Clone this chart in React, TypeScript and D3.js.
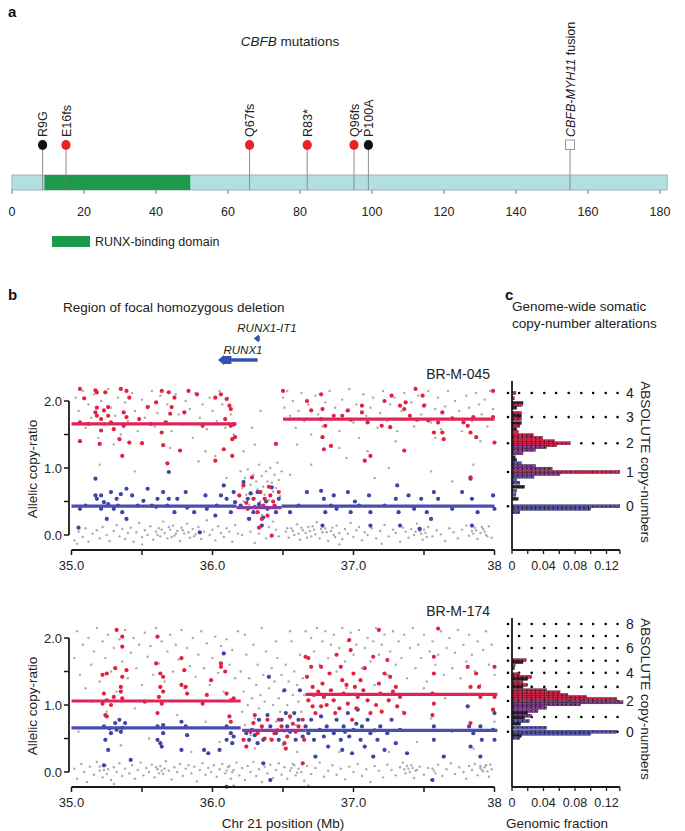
import React from 'react';
import * as d3 from 'd3';

const FONT = '"Liberation Sans", Arial, Helvetica, sans-serif';

// ---------- panel a: CBFB protein ----------
const proteinLength = 182;
const domainStart = 9;
const domainEnd = 49.5;
const aaTicks = [0, 20, 40, 60, 80, 100, 120, 140, 160, 180];
const mutationLabels = ['R9G', 'E16fs', 'Q67fs', 'R83*', 'Q96fs', 'P100A'];
const mutationPos = [8.5, 15, 66, 82, 95, 99];
const mutationKind = ['missense', 'truncating', 'truncating', 'truncating', 'truncating', 'missense'];
const fusionPos = 155;

// ---------- panel b: allelic copy-ratio, chr21 ----------
const genomicTicks = [35, 35.5, 36, 36.5, 37, 37.5, 38];
const genomicLabels = ['35.0', '', '36.0', '', '37.0', '', '38'];
const ratioTicks = [0, 0.5, 1, 1.5, 2];
const geneNames = ['RUNX1-IT1', 'RUNX1'];
const geneStart = [36.3, 36.06];
const geneEnd = [36.335, 36.32];

// [Mb, ratio]
const topRed = [
  [35.06, 2.18], [35.09, 2.04], [35.06, 1.68], [35.06, 1.4], [35.17, 2.16], [35.18, 2.13], [35.18, 1.9], [35.17, 1.83],
  [35.18, 1.78], [35.21, 1.73], [35.23, 1.86], [35.26, 1.91], [35.26, 1.78], [35.28, 1.68], [35.3, 1.58], [35.21, 1.56],
  [35.2, 1.36], [35.24, 2.13], [35.35, 2.18], [35.39, 2.15], [35.41, 2.05], [35.37, 1.83], [35.39, 1.76], [35.37, 1.63],
  [35.34, 1.43], [35.41, 1.38], [35.36, 1.18], [35.48, 1.73], [35.5, 1.37], [35.54, 1.91], [35.6, 1.98], [35.64, 2.15],
  [35.69, 2.13], [35.73, 2.05], [35.71, 1.91], [35.7, 1.81], [35.67, 1.68], [35.64, 1.53], [35.65, 1.34], [35.68, 1.07],
  [35.77, 1.26], [35.83, 2.15], [35.8, 1.83], [35.93, 1.63], [36.02, 2.05], [36.06, 2.1], [36.1, 2.03], [36.13, 1.88],
  [36.09, 1.73], [36.13, 1.63], [36.15, 1.65], [36.14, 1.43], [36.16, 1.46], [36.08, 1.28], [36.02, 1.11], [36.14, 1.18],
  [36.12, 1.93], [35.89, 2.1], [35.56, 1.66], [35.12, 1.66],
  [36.19, 0.59], [36.22, 0.74], [36.25, 0.39], [36.29, 0.54], [36.32, 0.34], [36.34, 0.64], [36.36, 0.44], [36.39, 0.29],
  [36.41, 0.59], [36.44, 0.44], [36.45, 1.36], [36.47, 0.64], [36.4, 0.72], [36.33, 0.11], [36.42, -0.01], [36.28, 0.86],
  [36.35, 0.24], [36.37, 0.54], [36.3, 0.42], [36.43, 0.5], [36.24, 0.48],
  [36.5, 2.15], [36.67, 2.0], [36.7, 1.86], [36.77, 2.1], [36.78, 1.88], [36.77, 1.73], [36.8, 1.63], [36.78, 1.46],
  [36.79, 1.28], [36.84, 1.33], [36.86, 1.78], [36.92, 1.78], [36.96, 1.86], [37.06, 1.93], [37.06, 1.83], [37.1, 1.68],
  [37.12, 1.18], [37.08, 1.11], [37.2, 1.63], [37.27, 2.08], [37.33, 1.93], [37.36, 1.88], [37.37, 1.98], [37.4, 1.78],
  [37.36, 1.26], [37.44, 2.18], [37.49, 2.08], [37.5, 1.93], [37.53, 1.71], [37.57, 1.53], [37.6, 1.68], [37.63, 1.83],
  [37.63, 1.53], [37.64, 1.43], [37.78, 1.68], [37.81, 1.63], [37.83, 1.53], [37.83, 0.86], [37.85, 1.76], [37.87, 1.46],
  [37.99, 2.15], [37.99, 1.76], [38.0, 1.38], [37.26, 1.61], [37.22, 2.0], [36.98, 1.72], [37.45, 1.72], [37.7, 1.74],
];
const topBlue = [
  [35.05, 0.11], [35.06, 0.39], [35.1, 0.44], [35.17, 0.84], [35.17, 0.59], [35.18, 0.54], [35.21, 0.59], [35.21, 0.39],
  [35.23, 0.49], [35.25, 0.24], [35.28, 0.64], [35.3, 0.39], [35.32, 0.54], [35.35, 0.61], [35.36, 0.34], [35.39, 0.69],
  [35.39, 0.24], [35.43, 0.59], [35.47, 0.44], [35.51, 0.51], [35.54, 0.69], [35.57, 0.44], [35.61, 0.54], [35.65, 0.64],
  [35.68, 0.44], [35.69, 0.54], [35.69, 0.94], [35.73, 0.34], [35.75, 0.54], [35.82, 0.41], [35.87, 0.34], [35.91, 0.04],
  [35.96, 0.39], [36.03, 0.44], [36.06, 0.59], [36.08, 0.74], [36.1, 0.54], [36.13, 0.34], [36.15, 0.64], [36.16, 0.49],
  [36.02, 0.29], [35.95, 0.59], [35.81, 0.64], [35.26, 0.46], [35.33, 0.44], [35.6, 0.42],
  [36.2, 0.44], [36.22, 0.79], [36.25, 0.54], [36.26, 0.24], [36.29, 0.34], [36.32, 0.64], [36.33, 0.46], [36.36, 0.26],
  [36.39, 0.39], [36.42, 0.71], [36.45, 0.34], [36.47, 0.54], [36.35, 0.14], [36.27, 0.62], [36.38, 0.5],
  [36.55, 0.34], [36.67, 0.64], [36.77, 0.66], [36.79, 0.54], [36.8, 0.34], [36.78, 0.14], [36.84, 0.44], [36.86, 0.59],
  [36.88, 0.39], [36.96, 0.64], [36.98, 0.34], [37.04, 0.44], [37.11, 0.59], [37.12, 0.34], [37.12, 0.14], [37.22, 0.44],
  [37.3, 0.54], [37.31, 0.74], [37.32, 0.34], [37.33, 0.14], [37.39, 0.59], [37.43, 0.39], [37.48, 0.54], [37.52, 0.34],
  [37.57, 0.64], [37.55, 0.24], [37.6, 0.54], [37.7, 0.39], [37.77, 0.64], [37.83, 0.84], [37.84, 0.54], [37.84, 0.14],
  [37.88, 0.34], [37.99, 0.59], [38.0, 0.39], [37.47, 0.09], [36.61, 0.44], [37.01, 0.5],
];
const topGray = [
  [35.02, -0.08], [35.05, 0.05], [35.08, -0.03], [35.1, 0.1], [35.12, -0.1], [35.15, 0.02], [35.18, 0.07], [35.2, -0.05],
  [35.22, 0.12], [35.25, 0.0], [35.27, -0.09], [35.3, 0.06], [35.32, 0.15], [35.34, -0.02], [35.36, 0.09], [35.38, -0.06],
  [35.4, 0.03], [35.42, 0.11], [35.44, -0.1], [35.46, 0.04], [35.48, 0.18], [35.5, -0.03], [35.52, 0.07], [35.54, 0.0],
  [35.56, 0.13], [35.58, -0.07], [35.6, 0.05], [35.62, 0.1], [35.63, -0.02], [35.65, 0.2], [35.66, 0.03], [35.68, -0.05],
  [35.7, 0.08], [35.72, 0.14], [35.73, -0.01], [35.75, 0.06], [35.77, -0.09], [35.78, 0.11], [35.8, 0.02], [35.82, 0.17],
  [35.84, -0.04], [35.86, 0.09], [35.88, 0.01], [35.9, 0.12], [35.92, -0.06], [35.94, 0.05], [35.96, 0.22], [35.98, 0.0],
  [36.0, 0.08], [36.02, -0.08], [36.04, 0.13], [36.06, 0.03], [36.08, -0.03], [36.1, 0.1], [36.12, 0.05], [36.14, -0.1],
  [36.16, 0.15], [36.18, 0.02],
  [36.52, 0.05], [36.54, -0.04], [36.56, 0.1], [36.58, 0.0], [36.6, 0.16], [36.62, -0.07], [36.64, 0.07], [36.66, 0.03],
  [36.68, 0.12], [36.7, -0.02], [36.72, 0.08], [36.74, 0.19], [36.76, -0.05], [36.78, 0.04], [36.8, 0.1], [36.82, -0.09],
  [36.84, 0.06], [36.86, 0.0], [36.88, 0.14], [36.9, 0.03], [36.92, -0.06], [36.94, 0.09], [36.96, 0.02], [36.98, 0.18],
  [37.0, -0.03], [37.02, 0.07], [37.04, 0.12], [37.06, -0.08], [37.08, 0.04], [37.1, 0.0], [37.13, 0.1], [37.16, -0.05],
  [37.19, 0.06], [37.22, 0.15], [37.25, -0.02], [37.28, 0.08], [37.3, 0.03], [37.33, -0.1], [37.35, 0.11], [37.37, 0.05],
  [37.39, -0.04], [37.41, 0.09], [37.43, 0.0], [37.45, 0.17], [37.47, 0.06], [37.49, -0.07], [37.51, 0.03], [37.53, 0.12],
  [37.56, -0.02], [37.59, 0.07], [37.62, 0.01], [37.65, -0.09], [37.68, 0.1], [37.71, 0.04], [37.74, -0.05], [37.77, 0.08],
  [37.8, 0.14], [37.82, -0.01], [37.84, 0.06], [37.86, 0.11], [37.88, -0.06], [37.9, 0.03], [37.92, 0.09], [37.94, 0.0],
  [37.96, 0.13], [37.98, -0.04],
  [35.61, 0.0], [35.64, 0.08], [35.69, 0.12], [35.71, -0.03], [35.74, 0.02], [35.79, 0.07], [35.83, 0.04], [35.87, -0.02],
  [36.53, 0.1], [36.57, 0.06], [36.61, 0.02], [36.63, 0.11], [36.67, -0.04], [36.69, 0.06], [36.71, 0.13], [36.73, 0.01],
  [36.77, 0.09], [36.81, 0.04], [36.85, 0.11], [36.87, -0.03], [37.44, 0.05], [37.46, 0.1], [37.48, 0.02], [37.5, 0.08],
  [37.52, -0.03], [37.85, 0.02], [37.87, 0.07], [37.91, 0.12], [37.93, 0.05], [37.95, -0.02],
  [35.04, -0.13], [35.5, -0.14], [36.3, -0.12], [37.2, -0.13], [36.9, -0.14],
  [36.2, 0.95], [36.21, 0.7], [36.22, 0.5], [36.23, 0.85], [36.24, 0.6], [36.25, 0.98], [36.26, 0.45], [36.27, 0.75],
  [36.28, 0.62], [36.29, 0.9], [36.3, 0.55], [36.31, 0.8], [36.32, 0.68], [36.33, 1.05], [36.34, 0.5], [36.35, 0.88],
  [36.36, 0.72], [36.37, 0.6], [36.38, 0.95], [36.39, 0.8], [36.4, 0.52], [36.41, 1.0], [36.42, 0.78], [36.43, 0.65],
  [36.44, 0.9], [36.45, 0.7], [36.46, 1.08], [36.47, 0.82], [36.48, 0.58], [36.49, 0.95], [36.3, 1.35], [36.22, 1.25],
  [36.34, 1.85], [36.28, 1.6], [36.25, 0.25], [36.35, 0.3], [36.43, 0.2], [36.27, 0.05], [36.38, -0.05], [36.45, 0.08],
  [36.21, 0.0], [36.33, 0.02], [36.47, -0.02], [36.4, 0.12],
  [35.45, 0.95], [35.9, 1.1], [36.1, 0.85], [36.55, 0.9], [36.7, 1.05], [36.95, 1.15], [37.15, 0.85], [37.25, 1.0],
  [37.55, 0.95], [37.85, 1.05], [37.7, 0.8], [35.2, 1.05], [36.02, 1.18],
  [35.03, 2.05], [35.05, 1.85], [35.08, 2.15], [35.1, 1.6], [35.12, 1.95], [35.14, 1.75], [35.16, 2.1], [35.19, 1.45],
  [35.21, 2.0], [35.23, 1.65], [35.26, 2.18], [35.28, 1.9], [35.31, 1.78], [35.33, 2.05], [35.35, 1.5], [35.38, 1.98],
  [35.4, 1.7], [35.43, 2.12], [35.45, 1.85], [35.47, 1.55], [35.5, 2.02], [35.52, 1.75], [35.55, 1.92], [35.57, 2.15],
  [35.59, 1.62], [35.61, 1.82], [35.63, 2.08], [35.66, 1.7], [35.68, 1.95], [35.71, 1.55], [35.74, 2.1], [35.76, 1.8],
  [35.79, 1.65], [35.81, 2.0], [35.84, 1.88], [35.86, 1.45], [35.88, 2.12], [35.91, 1.75], [35.93, 1.95], [35.96, 1.58],
  [35.98, 2.05], [36.0, 1.85], [36.03, 1.7], [36.05, 2.15], [36.07, 1.95], [36.09, 1.6], [36.11, 2.05], [36.13, 1.8],
  [36.15, 1.5], [35.3, 1.35], [35.7, 1.3], [35.95, 1.25],
  [36.5, 2.05], [36.51, 1.9], [36.53, 2.15], [36.55, 1.78], [36.57, 2.0], [36.59, 1.6], [36.61, 1.85], [36.63, 2.12],
  [36.65, 1.7], [36.68, 1.95], [36.7, 1.5], [36.73, 2.08], [36.75, 1.8], [36.78, 1.62], [36.8, 1.98], [36.83, 2.15],
  [36.85, 1.72], [36.87, 1.9], [36.9, 1.55], [36.92, 2.02], [36.95, 1.85], [36.97, 2.18], [37.0, 1.68], [37.02, 1.95],
  [37.04, 1.45], [37.07, 2.1], [37.09, 1.78], [37.12, 1.9], [37.14, 2.05], [37.17, 1.6], [37.19, 1.82], [37.21, 2.15],
  [37.24, 1.7], [37.26, 1.95], [37.29, 2.05], [37.31, 1.55], [37.34, 1.85], [37.36, 2.12], [37.38, 1.72], [37.41, 1.98],
  [37.43, 1.62], [37.46, 2.08], [37.48, 1.8], [37.51, 1.95], [37.53, 2.15], [37.55, 1.68], [37.58, 1.88], [37.6, 2.05],
  [37.62, 1.58], [37.65, 1.92], [37.67, 2.15], [37.7, 1.75], [37.72, 2.0], [37.75, 1.85], [37.77, 1.55], [37.8, 2.08],
  [37.82, 1.9], [37.84, 1.7], [37.87, 2.12], [37.89, 1.95], [37.91, 1.8], [37.93, 2.02], [37.95, 1.62], [37.97, 2.15],
  [37.99, 1.88], [36.6, 1.35], [36.9, 1.3], [37.3, 1.4], [37.1, 1.25], [37.58, 1.45], [37.9, 1.4],
];

const botRed = [
  [35.32, 2.12], [35.36, 2.02], [35.36, 1.87], [35.22, 1.45], [35.25, 1.47], [35.31, 1.55], [35.36, 1.42], [35.35, 1.27],
  [35.35, 1.2], [35.39, 1.52], [35.23, 1.17], [35.25, 1.07], [35.28, 1.0], [35.24, 0.85], [35.25, 0.83], [35.3, 1.12],
  [35.36, 1.1], [35.61, 2.02], [35.6, 1.62], [35.63, 1.47], [35.65, 1.42], [35.63, 1.27], [35.65, 1.2], [35.62, 1.12],
  [35.64, 1.02], [35.61, 0.88], [35.78, 1.7], [35.8, 1.52], [35.81, 1.27], [35.78, 1.3], [35.82, 1.17], [35.93, 1.02],
  [35.96, 1.15], [36.06, 1.62], [36.06, 1.57], [36.09, 1.5], [36.1, 1.17], [36.13, 1.07], [36.12, 0.83], [36.13, 0.75],
  [35.99, 1.37], [35.22, 1.02], [35.52, 1.05], [36.15, 1.1],
  [36.22, 0.48], [36.24, 0.38], [36.29, 0.73], [36.32, 0.58], [36.35, 0.68], [36.39, 0.78], [36.42, 0.48], [36.44, 0.58],
  [36.47, 0.78], [36.49, 0.68], [36.51, 0.43], [36.52, 0.35], [36.53, 0.53], [36.55, 0.83], [36.59, 0.6], [36.61, 0.68],
  [36.64, 0.78], [36.65, 0.48], [36.64, 0.13], [36.27, 0.6], [36.37, 0.5], [36.46, 0.62], [36.57, 0.72], [36.3, 0.85],
  [36.66, 1.72], [36.68, 1.7], [36.7, 1.57], [36.67, 1.42], [36.71, 1.27], [36.72, 1.15], [36.68, 1.07], [36.71, 0.98],
  [36.73, 0.88], [36.77, 1.57], [36.78, 1.32], [36.79, 1.12], [36.77, 0.98], [36.83, 1.47], [36.84, 1.22], [36.86, 1.07],
  [36.87, 0.88], [36.88, 1.75], [36.91, 1.57], [36.92, 1.37], [36.93, 1.17], [36.96, 1.02], [36.97, 1.97], [36.98, 1.82],
  [37.0, 1.47], [37.01, 1.27], [37.03, 1.12], [36.99, 0.78], [37.05, 1.37], [37.07, 1.22], [37.1, 1.07], [37.12, 0.88],
  [37.14, 1.72], [37.18, 1.32], [37.19, 1.17], [37.18, 2.12], [37.22, 1.47], [37.24, 1.67], [37.25, 1.07], [37.26, 1.42],
  [37.3, 1.27], [37.31, 0.98], [37.33, 1.12], [37.36, 0.88], [37.57, 1.72], [37.57, 1.47], [37.56, 1.17], [37.57, 1.02],
  [37.56, 0.85], [37.6, 2.14], [37.81, 1.57], [37.83, 1.27], [37.87, 1.47], [37.9, 1.12], [37.89, 1.27], [37.83, 0.73],
  [37.99, 0.93], [38.0, 1.12], [38.0, 1.57], [36.75, 1.2], [36.81, 1.0], [36.9, 0.95], [36.95, 1.3], [37.02, 0.95],
  [37.08, 1.55], [37.16, 1.0], [37.2, 0.9], [37.28, 1.2],
];
const botBlue = [
  [35.23, 0.68], [35.24, 0.48], [35.28, 0.58], [35.26, 0.33], [35.31, 0.73], [35.32, 0.63], [35.34, 0.78], [35.35, 0.6],
  [35.38, 0.73], [35.23, 0.1], [35.42, 0.18], [35.61, 0.68], [35.61, 0.48], [35.63, 0.43], [35.65, 0.7], [35.65, 0.58],
  [35.64, 0.38], [35.78, 0.75], [35.81, 0.68], [35.82, 0.55], [35.78, 0.33], [35.94, 0.33], [35.97, 0.28], [36.08, 1.77],
  [36.05, 0.33], [36.1, 0.68], [36.13, 0.58], [36.1, 0.48], [36.14, 0.43], [36.15, 0.53], [36.1, -0.22], [35.27, 0.65],
  [35.36, 0.66],
  [36.24, 0.58], [36.26, 0.48], [36.28, 0.63], [36.32, 0.43], [36.33, 0.78], [36.36, 0.48], [36.36, 0.13], [36.39, 0.85],
  [36.41, 0.68], [36.41, -0.12], [36.45, 0.58], [36.47, 0.48], [36.49, 0.78], [36.51, 1.22], [36.52, 0.88], [36.53, 0.68],
  [36.55, 0.6], [36.58, 0.88], [36.59, 0.48], [36.61, 0.78], [36.62, 1.22], [36.64, 0.53], [36.4, 1.42], [36.3, 0.55],
  [36.66, 0.68], [36.68, 0.58], [36.7, 0.78], [36.72, 0.48], [36.73, 0.23], [36.76, 0.63], [36.77, 0.83], [36.79, 0.53],
  [36.81, 0.68], [36.82, 0.38], [36.86, 0.58], [36.88, 0.78], [36.91, 0.48], [36.92, 0.33], [36.93, 0.68], [36.96, 0.88],
  [36.97, 0.53], [36.99, 0.28], [37.0, 0.63], [37.03, 0.93], [37.05, 0.48], [37.06, 0.68], [37.08, 0.38], [37.1, 0.78],
  [37.12, 0.58], [37.14, 0.23], [37.17, 0.48], [37.19, 0.68], [37.22, 0.33], [37.24, 0.58], [37.27, 0.78], [37.3, 0.43],
  [37.33, 0.63], [37.38, 0.28], [37.57, 0.68], [37.57, 0.48], [37.56, -0.12], [37.64, 0.23], [37.81, 0.98], [37.82, 0.68],
  [37.83, 0.38], [37.85, 0.58], [37.9, 0.68], [37.91, 0.48], [37.9, 0.23], [37.99, 0.63], [38.0, 0.48], [38.0, 0.88],
  [36.94, 0.6], [37.02, 0.72], [37.15, 0.62],
];
const botGray = [
  [35.02, 1.7], [35.04, 2.1], [35.06, 1.45], [35.08, 1.9], [35.1, 1.25], [35.12, 2.0], [35.14, 1.6], [35.16, 1.8],
  [35.18, 2.15], [35.2, 1.35], [35.22, 1.95], [35.24, 1.7], [35.26, 2.05], [35.28, 1.5], [35.3, 1.85], [35.32, 1.2],
  [35.34, 1.98], [35.36, 1.65], [35.38, 2.12], [35.4, 1.4], [35.42, 1.78], [35.44, 2.0], [35.46, 1.55], [35.48, 1.9],
  [35.5, 1.3], [35.52, 2.08], [35.54, 1.72], [35.56, 1.88], [35.58, 1.45], [35.6, 2.15], [35.62, 1.62], [35.64, 1.95],
  [35.66, 1.35], [35.68, 1.8], [35.7, 2.05], [35.72, 1.5], [35.74, 1.9], [35.76, 1.68], [35.78, 2.12], [35.8, 1.25],
  [35.82, 1.85], [35.84, 1.58], [35.86, 2.0], [35.88, 1.42], [35.9, 1.75], [35.92, 2.1], [35.94, 1.55], [35.96, 1.92],
  [35.98, 1.3], [36.0, 1.7], [36.02, 2.02], [36.04, 1.48], [36.06, 1.88], [36.08, 1.2], [36.1, 1.98], [36.12, 1.6],
  [36.14, 1.82], [36.16, 1.4], [36.18, 2.1], [35.15, 1.05], [35.45, 0.95], [35.55, 0.5], [35.75, 0.85], [35.85, 0.3],
  [35.95, 0.75], [36.05, 0.45], [35.35, 0.4], [35.25, 0.9], [35.05, 0.6],
  [36.2, 1.5], [36.21, 0.9], [36.22, 1.2], [36.23, 0.7], [36.24, 1.75], [36.25, 1.0], [36.26, 1.4], [36.27, 0.55],
  [36.28, 1.1], [36.29, 1.9], [36.3, 0.8], [36.31, 1.3], [36.32, 1.6], [36.33, 0.95], [36.34, 1.15], [36.35, 0.65],
  [36.36, 1.45], [36.37, 1.05], [36.38, 1.8], [36.39, 0.85], [36.4, 1.25], [36.41, 0.5], [36.42, 1.55], [36.43, 1.0],
  [36.44, 1.35], [36.45, 0.75], [36.46, 1.7], [36.47, 1.1], [36.48, 0.9], [36.49, 1.45], [36.5, 1.2], [36.51, 0.6],
  [36.52, 1.6], [36.53, 1.0], [36.54, 1.35], [36.55, 0.8], [36.56, 1.95], [36.57, 1.15], [36.58, 1.5], [36.59, 0.7],
  [36.6, 1.3], [36.61, 1.05], [36.62, 1.75], [36.63, 0.9], [36.64, 1.4], [36.65, 1.15], [36.66, 2.1], [36.23, 2.05],
  [36.35, 2.15], [36.45, 1.95], [36.55, 2.1], [36.3, 0.35], [36.5, 0.4], [36.6, 0.3],
  [36.7, 2.0], [36.72, 1.8], [36.74, 2.15], [36.76, 1.6], [36.78, 1.95], [36.8, 2.1], [36.82, 1.7], [36.84, 1.9],
  [36.86, 2.05], [36.88, 1.5], [36.9, 1.85], [36.92, 2.15], [36.94, 1.65], [36.96, 1.95], [36.98, 2.08], [37.0, 1.75],
  [37.02, 1.9], [37.04, 2.12], [37.06, 1.55], [37.08, 1.85], [37.1, 2.0], [37.12, 1.65], [37.14, 1.95], [37.16, 2.15],
  [37.18, 1.75], [37.2, 1.9], [37.22, 2.05], [37.24, 1.45], [37.26, 1.8], [37.28, 2.1], [37.3, 1.6], [37.32, 1.95],
  [37.34, 1.7], [37.36, 2.05], [37.38, 1.4], [37.4, 1.85], [37.42, 2.15], [37.44, 1.55], [37.46, 1.9], [37.48, 1.7],
  [37.5, 2.05], [37.52, 1.35], [37.54, 1.8], [37.56, 1.95], [37.58, 1.6], [37.6, 1.75], [37.62, 2.1], [37.64, 1.45],
  [37.66, 1.85], [37.68, 2.0], [37.7, 1.55], [37.72, 1.78], [37.74, 2.12], [37.76, 1.4], [37.78, 1.9], [37.8, 1.65],
  [37.82, 2.05], [37.84, 1.75], [37.86, 1.5], [37.88, 1.95], [37.9, 1.3], [37.92, 1.82], [37.94, 2.1], [37.96, 1.6],
  [37.98, 1.9], [38.0, 1.45], [37.15, 1.3], [37.5, 1.25], [37.65, 1.1], [37.35, 0.9], [37.7, 0.6], [37.45, 0.45],
  [37.25, 0.3], [37.85, 0.35], [36.9, 0.3], [37.55, 0.8], [38.0, 0.75], [37.75, 1.15], [36.95, 1.25],
  [35.02, 0.05], [35.04, -0.1], [35.07, 0.12], [35.09, 0.0], [35.11, -0.15], [35.13, 0.08], [35.16, -0.04], [35.18, 0.15],
  [35.2, 0.02], [35.22, -0.08], [35.24, 0.1], [35.26, 0.04], [35.28, -0.12], [35.3, 0.07], [35.32, 0.0], [35.34, 0.13],
  [35.36, -0.06], [35.38, 0.05], [35.41, -0.02], [35.43, 0.1], [35.45, -0.1], [35.47, 0.03], [35.49, 0.14], [35.51, -0.05],
  [35.53, 0.06], [35.55, 0.0], [35.57, 0.11], [35.59, -0.08], [35.61, 0.04], [35.63, 0.09], [35.65, -0.03], [35.67, 0.16],
  [35.69, 0.02], [35.71, -0.11], [35.73, 0.07], [35.75, 0.0], [35.77, 0.12], [35.79, -0.06], [35.81, 0.05], [35.83, 0.1],
  [35.85, -0.02], [35.87, 0.08], [35.89, -0.14], [35.91, 0.03], [35.93, 0.13], [35.95, -0.04], [35.97, 0.06], [35.99, 0.0],
  [36.01, 0.1], [36.03, -0.07], [36.05, 0.04], [36.07, 0.12], [36.09, -0.02], [36.11, 0.07], [36.13, -0.1], [36.15, 0.03],
  [36.17, 0.14], [36.19, -0.05], [36.21, 0.06], [36.23, -0.12], [36.25, 0.09], [36.27, 0.0], [36.29, 0.15], [36.31, -0.06],
  [36.33, 0.04], [36.35, -0.15], [36.37, 0.08], [36.39, -0.02], [36.41, 0.11], [36.43, -0.09], [36.45, 0.03], [36.47, 0.13],
  [36.49, -0.04], [36.51, 0.07], [36.53, -0.1], [36.55, 0.02], [36.57, 0.12], [36.59, -0.05], [36.61, 0.05], [36.63, 0.0],
  [36.65, -0.13], [36.67, 0.09], [36.7, -0.03], [36.73, 0.06], [36.76, 0.14], [36.79, -0.07], [36.82, 0.02], [36.85, 0.1],
  [36.88, -0.04], [36.91, 0.05], [36.94, -0.11], [36.97, 0.08], [37.0, 0.0], [37.03, 0.12], [37.06, -0.06], [37.09, 0.04],
  [37.12, -0.15], [37.15, 0.09], [37.18, 0.02], [37.21, -0.08], [37.24, 0.11], [37.27, 0.03], [37.3, -0.05], [37.33, 0.07],
  [37.35, 0.14], [37.37, -0.02], [37.39, 0.05], [37.41, 0.1], [37.43, -0.09], [37.45, 0.03], [37.47, 0.08], [37.5, -0.04],
  [37.53, 0.06], [37.55, -0.12], [37.57, 0.02], [37.6, 0.11], [37.63, -0.06], [37.66, 0.04], [37.69, 0.13], [37.72, -0.03],
  [37.75, 0.07], [37.78, 0.0], [37.8, -0.1], [37.82, 0.09], [37.84, 0.03], [37.86, 0.12], [37.88, -0.05], [37.9, 0.06],
  [37.92, 0.01], [37.94, 0.1], [37.96, -0.07], [37.98, 0.04],
  [35.2, 0.08], [35.23, 0.03], [35.25, -0.03], [35.6, 0.07], [35.62, -0.02], [35.64, 0.02], [35.66, 0.05], [36.1, 0.02],
  [36.12, 0.09], [36.14, 0.0], [36.56, 0.06], [36.58, 0.1], [36.6, -0.01], [37.36, 0.04], [37.38, 0.09], [37.4, 0.0],
  [37.42, 0.06], [37.44, 0.02], [37.56, 0.05], [37.58, -0.02], [37.9, 0.09], [37.91, 0.03], [37.93, 0.07], [37.95, 0.01],
  [37.97, 0.11], [36.15, -0.2], [35.3, -0.18], [36.68, -0.2],
];

// segments: [start Mb, end Mb, ratio, allele]
const topSegments = [
  [35.0, 36.17, 1.66, 'major'], [36.5, 38.0, 1.73, 'major'],
  [35.0, 36.17, 0.43, 'minor'], [36.17, 36.49, 0.41, 'both'], [36.49, 38.0, 0.43, 'minor'],
];
const botSegments = [
  [35.0, 36.2, 1.06, 'major'], [36.66, 38.02, 1.16, 'major'],
  [35.0, 36.2, 0.66, 'minor'], [36.21, 36.66, 0.62, 'both'], [36.66, 38.02, 0.62, 'minor'],
];

// ---------- panel c: genome-wide histogram ----------
const fracTicks = [0, 0.02, 0.04, 0.06, 0.08, 0.1, 0.12, 0.137];
const fracLabels = ['0', '', '0.04', '', '0.08', '', '0.12', ''];
const gridFractions = [0.009, 0.025, 0.041, 0.056, 0.072, 0.088, 0.103, 0.119, 0.134];
const topCN = [0, 1, 2, 3, 4];
const topCNRatio = [0.43, 0.94, 1.37, 1.76, 2.12];
const botCN = [0, 1, 2, 3, 4, 5, 6, 7, 8];
const botCNRatio = [0.6, 0.82, 1.06, 1.27, 1.48, 1.66, 1.85, 2.03, 2.21];
// [ratio, genomic fraction, colour]
const topHist = [
  [2.12, 0.005, 'r'], [2.04, 0.003, 'r'], [1.97, 0.014, 'k'], [1.94, 0.013, 'r'], [1.9, 0.006, 'k'], [1.82, 0.012, 'r'],
  [1.78, 0.012, 'k'], [1.73, 0.012, 'r'], [1.67, 0.012, 'k'], [1.63, 0.01, 'r'], [1.58, 0.006, 'k'], [1.54, 0.008, 'r'],
  [1.49, 0.027, 'r'], [1.45, 0.039, 'r'], [1.4, 0.054, 'r'], [1.37, 0.074, 'r'], [1.34, 0.057, 'r'], [1.31, 0.044, 'p'],
  [1.27, 0.03, 'p'], [1.22, 0.014, 'p'], [1.16, 0.004, 'k'], [1.12, 0.006, 'k'], [1.07, 0.012, 'b'], [1.03, 0.03, 'p'],
  [0.99, 0.051, 'p'], [0.94, 0.137, 'r'], [0.91, 0.061, 'p'], [0.87, 0.028, 'b'], [0.82, 0.006, 'b'], [0.78, 0.01, 'b'],
  [0.72, 0.016, 'k'], [0.66, 0.006, 'b'], [0.6, 0.005, 'b'], [0.54, 0.008, 'k'], [0.43, 0.137, 'b'], [0.39, 0.1, 'b'],
  [0.34, 0.01, 'b'],
];
const botHist = [
  [1.67, 0.018, 'r'], [1.64, 0.014, 'k'], [1.6, 0.004, 'r'], [1.55, 0.003, 'k'], [1.46, 0.01, 'r'], [1.42, 0.025, 'r'],
  [1.39, 0.02, 'k'], [1.34, 0.014, 'r'], [1.3, 0.02, 'r'], [1.27, 0.014, 'k'], [1.22, 0.044, 'r'], [1.19, 0.061, 'r'],
  [1.15, 0.071, 'r'], [1.12, 0.095, 'r'], [1.09, 0.133, 'r'], [1.04, 0.141, 'p'], [1.01, 0.087, 'p'], [0.99, 0.037, 'p'],
  [0.96, 0.044, 'p'], [0.91, 0.033, 'p'], [0.88, 0.02, 'k'], [0.84, 0.025, 'p'], [0.81, 0.016, 'k'], [0.76, 0.022, 'b'],
  [0.72, 0.011, 'k'], [0.66, 0.044, 'b'], [0.6, 0.133, 'b'], [0.57, 0.1, 'b'], [0.54, 0.012, 'k'], [0.51, 0.01, 'b'],
];

const histColor: Record<string, string> = { r: '#d8244e', b: '#5a56b6', p: '#873f95', k: '#2a2030' };
const segColor: Record<string, string> = { major: '#e0245a', minor: '#4a4cae', both: '#8a3c9c' };

const xa = d3.scaleLinear().domain([0, 180]).range([12, 660]);
const xGen = d3.scaleLinear().domain([35, 38]).range([71.5, 494.5]);
const xFrac = d3.scaleLinear().domain([0, 0.12]).range([512, 606.5]);

const AXIS = '#1a1a1a';

type Pt = number[];

function CopyPanel(props: {
  yBase: number; sample: string; gray: Pt[]; red: Pt[]; blue: Pt[]; segs: any[];
  hist: any[]; cn: number[]; cnRatio: number[]; labelEvery: number;
}) {
  const { yBase, sample, gray, red, blue, segs, hist, cn, cnRatio, labelEvery } = props;
  const y = d3.scaleLinear().domain([0, 2]).range([yBase, yBase - 134]);
  const axisY = yBase + 15;
  const histTop = y(2.3);
  const half = 0.023;
  return (
    <g>
      <text x={490} y={yBase - 156} textAnchor="end" fontSize={14} fill="#222">{sample}</text>
      {/* scatter points */}
      {gray.map((d, i) => <circle key={'g' + i} cx={xGen(d[0])} cy={y(d[1])} r={1.2} fill="#a9a9ae" />)}
      {blue.map((d, i) => <circle key={'b' + i} cx={xGen(d[0])} cy={y(d[1])} r={2.1} fill="#3b46a6" />)}
      {red.map((d, i) => <circle key={'r' + i} cx={xGen(d[0])} cy={y(d[1])} r={2.1} fill="#e4203f" />)}
      {segs.map((s, i) => (
        <line key={'s' + i} x1={xGen(s[0])} x2={xGen(s[1])} y1={y(s[2])} y2={y(s[2])}
          stroke={segColor[s[3]]} strokeWidth={3.2} />
      ))}
      {/* y axis */}
      <line x1={69} x2={69} y1={y(0)} y2={y(2)} stroke={AXIS} strokeWidth={1.8} />
      {ratioTicks.map((t) => (
        <g key={'yt' + t}>
          <line x1={64} x2={69} y1={y(t)} y2={y(t)} stroke={AXIS} strokeWidth={1.5} />
          {t % 1 === 0 && (
            <text x={62} y={y(t)} dy="0.35em" textAnchor="end" fontSize={13} fill="#222">{d3.format('.1f')(t)}</text>
          )}
        </g>
      ))}
      <text transform={`translate(37,${yBase - 66}) rotate(-90)`} textAnchor="middle" fontSize={13.5} fill="#222">
        Allelic copy-ratio
      </text>
      {/* x axis */}
      <line x1={xGen(35)} x2={xGen(38)} y1={axisY} y2={axisY} stroke={AXIS} strokeWidth={1.8} />
      {genomicTicks.map((t, i) => (
        <g key={'xt' + t}>
          <line x1={xGen(t)} x2={xGen(t)} y1={axisY} y2={axisY + 5} stroke={AXIS} strokeWidth={1.5} />
          {genomicLabels[i] && (
            <text x={xGen(t)} y={axisY + 20} textAnchor="middle" fontSize={13} fill="#222">{genomicLabels[i]}</text>
          )}
        </g>
      ))}

      {/* histogram */}
      {cn.map((c, i) => (
        <g key={'cn' + c}>
          <circle cx={508} cy={y(cnRatio[i])} r={1.3} fill="#000" />
          {gridFractions.map((f) => <circle key={f} cx={xFrac(f)} cy={y(cnRatio[i])} r={1.3} fill="#000" />)}
          {c % labelEvery === 0 && (
            <text x={626} y={y(cnRatio[i])} dy="0.36em" fontSize={14} fill="#222">{c}</text>
          )}
        </g>
      ))}
      {hist.map((h, i) => {
        const y1 = y(h[0] + half);
        const y2 = y(h[0] - half);
        return (
          <g key={'h' + i}>
            <rect x={xFrac(0)} y={y1} width={xFrac(h[1]) - xFrac(0)} height={y2 - y1}
              fill={histColor[h[2]]} stroke="#1a1a1a" strokeWidth={0.35} />
            {h[1] > 0.008 && (
              <line x1={xFrac(0) + 1} x2={xFrac(h[1]) - 1} y1={y(h[0])} y2={y(h[0])}
                stroke="#000" strokeWidth={1.1} strokeDasharray="1.2 3.2" />
            )}
          </g>
        );
      })}
      <line x1={xFrac(0)} x2={xFrac(0)} y1={histTop} y2={axisY} stroke={AXIS} strokeWidth={1.8} />
      <line x1={xFrac(0)} x2={xFrac(0.137)} y1={axisY} y2={axisY} stroke={AXIS} strokeWidth={1.8} />
      {fracTicks.map((t, i) => (
        <g key={'ft' + i}>
          <line x1={xFrac(t)} x2={xFrac(t)} y1={axisY} y2={axisY + 4} stroke={AXIS} strokeWidth={1.3} />
          {fracLabels[i] && (
            <text x={xFrac(t)} y={axisY + 20} textAnchor="middle" fontSize={12.5} fill="#222">{fracLabels[i]}</text>
          )}
        </g>
      ))}
      <text transform={`translate(641,${yBase - 73}) rotate(90)`} textAnchor="middle" fontSize={13.5} fill="#222">
        ABSOLUTE copy-numbers
      </text>
    </g>
  );
}

export default function App() {
  const barTop = 175;
  const barBottom = 190;
  const stemTop = 145;
  return (
    <svg width={685} height={831} viewBox="0 0 685 831"
      style={{ position: 'absolute', left: 0, top: 0, background: '#fff', fontFamily: FONT }}>
      {/* ---------- a ---------- */}
      <text x={8} y={17} fontSize={15} fontWeight="bold" fill="#111">a</text>
      <text x={290} y={46} textAnchor="middle" fontSize={13.5} fill="#222">
        <tspan fontStyle="italic">CBFB</tspan> mutations
      </text>
      {mutationPos.map((p, i) => (
        <line key={'st' + i} x1={xa(p)} x2={xa(p)} y1={stemTop} y2={barBottom} stroke="#8c8c8c" strokeWidth={1} />
      ))}
      <line x1={xa(fusionPos)} x2={xa(fusionPos)} y1={150} y2={barBottom} stroke="#8c8c8c" strokeWidth={1} />
      <rect x={xa(0)} y={barTop} width={xa(proteinLength) - xa(0)} height={barBottom - barTop}
        fill="#b3dfe2" stroke="#8fa5a8" strokeWidth={0.8} />
      <rect x={xa(domainStart)} y={barTop} width={xa(domainEnd) - xa(domainStart)} height={barBottom - barTop}
        fill="#1d9a4b" />
      {mutationPos.map((p, i) => (
        <line key={'st2' + i} x1={xa(p)} x2={xa(p)} y1={barTop} y2={barBottom} stroke="#6f7f7f" strokeWidth={0.8} />
      ))}
      <line x1={xa(fusionPos)} x2={xa(fusionPos)} y1={barTop} y2={barBottom} stroke="#6f7f7f" strokeWidth={0.8} />
      {aaTicks.map((t) => (
        <g key={'aa' + t}>
          <line x1={xa(t)} x2={xa(t)} y1={barBottom} y2={barBottom + 4} stroke="#777" strokeWidth={1} />
          <text x={xa(t)} y={216} textAnchor="middle" fontSize={12.5} fill="#222">{t}</text>
        </g>
      ))}
      {mutationPos.map((p, i) => (
        <g key={'mut' + i}>
          <ellipse cx={xa(p)} cy={stemTop} rx={4.6} ry={5} fill={mutationKind[i] === 'missense' ? '#111' : '#e8212b'} />
          <text transform={`translate(${xa(p) + 4.5},137) rotate(-90)`} fontSize={12.5} fill="#222">{mutationLabels[i]}</text>
        </g>
      ))}
      <rect x={xa(fusionPos) - 4.5} y={140} width={9} height={9.5} fill="#fff" stroke="#999" strokeWidth={1} />
      <text transform={`translate(${xa(fusionPos) + 4.5},137) rotate(-90)`} fontSize={12.5} fill="#222">
        <tspan fontStyle="italic">CBFB-MYH11</tspan> fusion
      </text>
      <rect x={52} y={236} width={38} height={11} fill="#1d9a4b" />
      <text x={95} y={246} fontSize={12.5} fill="#222">RUNX-binding domain</text>

      {/* ---------- b ---------- */}
      <text x={8} y={300} fontSize={15} fontWeight="bold" fill="#111">b</text>
      <text x={63} y={312} fontSize={13.5} fill="#222">Region of focal homozygous deletion</text>
      {/* genes */}
      <text x={267} y={332} textAnchor="middle" fontSize={11.5} fontStyle="italic" fill="#222">{geneNames[0]}</text>
      <rect x={xGen(geneStart[0]) + 2} y={336} width={xGen(geneEnd[0]) - xGen(geneStart[0]) - 2} height={5} fill="#3550b0" />
      <polygon points={`${xGen(geneStart[0]) - 1},338.5 ${xGen(geneStart[0]) + 4},334.5 ${xGen(geneStart[0]) + 4},342.5`} fill="#3550b0" />
      <text x={243} y={354} textAnchor="middle" fontSize={11.5} fontStyle="italic" fill="#222">{geneNames[1]}</text>
      <line x1={xGen(geneStart[1])} x2={xGen(geneEnd[1])} y1={360} y2={360} stroke="#3550b0" strokeWidth={3.5} />
      <rect x={xGen(geneStart[1]) + 2} y={356} width={xGen(36.12) - xGen(geneStart[1])} height={8} fill="#3550b0" />
      <polygon points={`${xGen(geneStart[1]) - 3},360 ${xGen(geneStart[1]) + 3},355 ${xGen(geneStart[1]) + 3},365`} fill="#3550b0" />

      <text x={505} y={300} fontSize={15} fontWeight="bold" fill="#111">c</text>
      <text x={512} y={311} fontSize={13.5} fill="#222">Genome-wide somatic</text>
      <text x={512} y={328} fontSize={13.5} fill="#222">copy-number alterations</text>

      <CopyPanel yBase={535} sample="BR-M-045" gray={topGray} red={topRed} blue={topBlue} segs={topSegments}
        hist={topHist} cn={topCN} cnRatio={topCNRatio} labelEvery={1} />
      <CopyPanel yBase={772} sample="BR-M-174" gray={botGray} red={botRed} blue={botBlue} segs={botSegments}
        hist={botHist} cn={botCN} cnRatio={botCNRatio} labelEvery={2} />

      <text x={283} y={828} textAnchor="middle" fontSize={13.5} fill="#222">Chr 21 position (Mb)</text>
      <text x={557} y={828} textAnchor="middle" fontSize={13.5} fill="#222">Genomic fraction</text>
    </svg>
  );
}
